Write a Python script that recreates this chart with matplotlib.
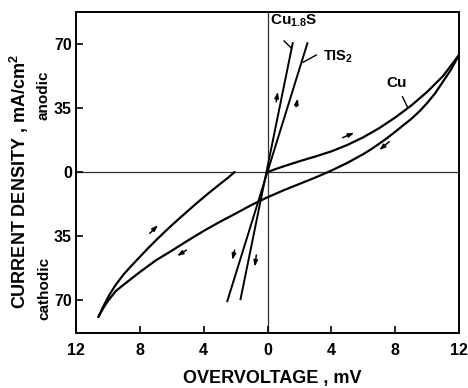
import matplotlib
matplotlib.use("Agg")
import matplotlib.pyplot as plt
from matplotlib.ticker import FixedLocator, FuncFormatter

plt.rcParams['font.family'] = ['Liberation Sans', 'DejaVu Sans']
plt.rcParams['font.weight'] = 'bold'
plt.rcParams['mathtext.default'] = 'regular'

# ---- data ----
# Cu loop: lower (cathodic-going) branch
cu_lower_x = [12.0, 11.5, 11.0, 10.5, 10.0, 9.5, 9.0, 8.5, 8.0, 7.5, 7.0, 6.5, 6.0,
              5.0, 4.0, 3.0, 2.0, 1.0, 0.0, -1.0, -2.0, -3.0, -4.0, -5.0, -6.0,
              -7.0, -8.0, -9.0, -9.5, -10.0, -10.3, -10.6]
cu_lower_y = [64, 56, 49.5, 43, 37.7, 33, 29, 25.5, 22, 18.6, 15.5, 12.5, 9.8,
              5.0, 0.8, -3.0, -6.5, -10.0, -13.8, -18.0, -22.7, -27.3, -32.2, -37.5, -43.0,
              -48.3, -54.7, -61.5, -65.0, -70.5, -74.5, -79.2]
# Cu loop: upper branch, cathodic side
cu_upper_left_x = [-10.6, -10.55, -10.4, -10.2, -9.9, -9.5, -9.0, -8.5, -8.0, -7.5,
                   -7.0, -6.5, -6.0, -5.5, -5.0, -4.5, -4.0, -3.5, -3.0, -2.5, -2.06]
cu_upper_left_y = [-79.2, -78.5, -75.5, -72.0, -67.0, -61.5, -55.8, -51.0, -46.4, -41.8,
                   -37.4, -33.2, -29.1, -25.2, -21.3, -17.5, -13.8, -10.2, -6.7, -3.3, 0]
# Cu loop: upper branch, anodic side
cu_upper_right_x = [0, 0.5, 1.0, 2.0, 3.0, 4.0, 5.0, 6.0, 7.0, 8.0, 9.0, 10.0, 11.0, 12.0]
cu_upper_right_y = [0, 1.6, 3.1, 5.9, 8.5, 11.3, 14.8, 19.0, 24.0, 29.8, 36.3, 43.8, 52.5, 64]
# Cu1.8S and TiS2 (straight lines)
cu18s_x = [-1.69, 1.58]
cu18s_y = [-69.5, 70.5]
tis2_x = [-2.52, 2.5]
tis2_y = [-70.6, 70.4]

# direction arrows (tail -> head)
arrow_tail_x = [-7.375, -5.08, 4.71, 7.63, 0.54, 1.79, -2.06, -0.70]
arrow_tail_y = [-33.5, -42.7, 18.8, 16.6, 38.4, 35.7, -42.7, -45.4]
arrow_head_x = [-6.86, -5.67, 5.44, 7.00, 0.65, 1.90, -2.20, -0.80]
arrow_head_y = [-29.0, -45.9, 21.5, 12.0, 43.9, 40.3, -48.1, -51.8]

# curve labels
label_texts = [r'Cu$_{1.8}$S', r'TIS$_2$', 'Cu']
label_x = [0.15, 3.48, 7.42]
label_y = [82.5, 63.0, 48.7]
leader_x0 = [1.04, 3.06, 8.46]
leader_y0 = [71.7, 64.0, 41.2]
leader_x1 = [1.46, 2.23, 8.77]
leader_y1 = [68.0, 60.0, 35.5]

xticks = [-12, -8, -4, 0, 4, 8, 12]
yticks = [-70, -35, 0, 35, 70]

# ---- figure ----
fig = plt.figure(figsize=(4.68, 3.88), dpi=100)
ax = fig.add_axes([76/468, 1-333/388, (459-76)/468, (333-12)/388])
ax.set_xlim(-12, 12)
ax.set_ylim(-88, 87.5)

ax.axhline(0, color='#333333', lw=0.9, zorder=1)
ax.axvline(0, color='#333333', lw=0.9, zorder=1)

lw = 1.6
kw = dict(color='black', lw=lw, solid_joinstyle='round', solid_capstyle='round', zorder=3)
ax.plot(cu_lower_x, cu_lower_y, **kw)
ax.plot(cu_upper_left_x, cu_upper_left_y, **kw)
ax.plot(cu_upper_right_x, cu_upper_right_y, **kw)
ax.plot(cu18s_x, cu18s_y, color='black', lw=1.4, zorder=3)
ax.plot(tis2_x, tis2_y, color='black', lw=1.4, zorder=3)

for tx, ty, hx, hy in zip(arrow_tail_x, arrow_tail_y, arrow_head_x, arrow_head_y):
    ax.annotate('', xy=(hx, hy), xytext=(tx, ty),
                arrowprops=dict(arrowstyle='-|>,head_length=0.35,head_width=0.12',
                                lw=1.1, color='black', shrinkA=0, shrinkB=0))

sizes = [11, 10.5, 11]
for t, x, y, s in zip(label_texts, label_x, label_y, sizes):
    ax.text(x, y, t, ha='left', va='center', fontsize=s, fontweight='bold')
for x0, y0, x1, y1 in zip(leader_x0, leader_y0, leader_x1, leader_y1):
    ax.plot([x0, x1], [y0, y1], color='black', lw=1.0)

ax.xaxis.set_major_locator(FixedLocator(xticks))
ax.yaxis.set_major_locator(FixedLocator(yticks))
absfmt = FuncFormatter(lambda v, p: f'{abs(int(round(v)))}')
ax.xaxis.set_major_formatter(absfmt)
ax.yaxis.set_major_formatter(absfmt)
ax.tick_params(axis='both', direction='in', length=5, width=1.2, labelsize=11.5)
ax.tick_params(axis='x', pad=7)
ax.tick_params(axis='y', pad=3)
for lab in ax.get_xticklabels() + ax.get_yticklabels():
    lab.set_fontweight('bold')
for sp in ax.spines.values():
    sp.set_linewidth(1.4)

fig.text(19/468, 1-182/388, 'CURRENT DENSITY , mA/cm$^2$', rotation=90,
         ha='center', va='center', fontsize=13, fontweight='bold')
fig.text(44/468, 1-95/388, 'anodic', rotation=90, ha='center', va='center',
         fontsize=11, fontweight='bold')
fig.text(44/468, 1-288/388, 'cathodic', rotation=90, ha='center', va='center',
         fontsize=11, fontweight='bold')
fig.text(272/468, 1-378/388, 'OVERVOLTAGE , mV', ha='center', va='center',
         fontsize=13, fontweight='bold')

fig.savefig('out.png', dpi=100)
